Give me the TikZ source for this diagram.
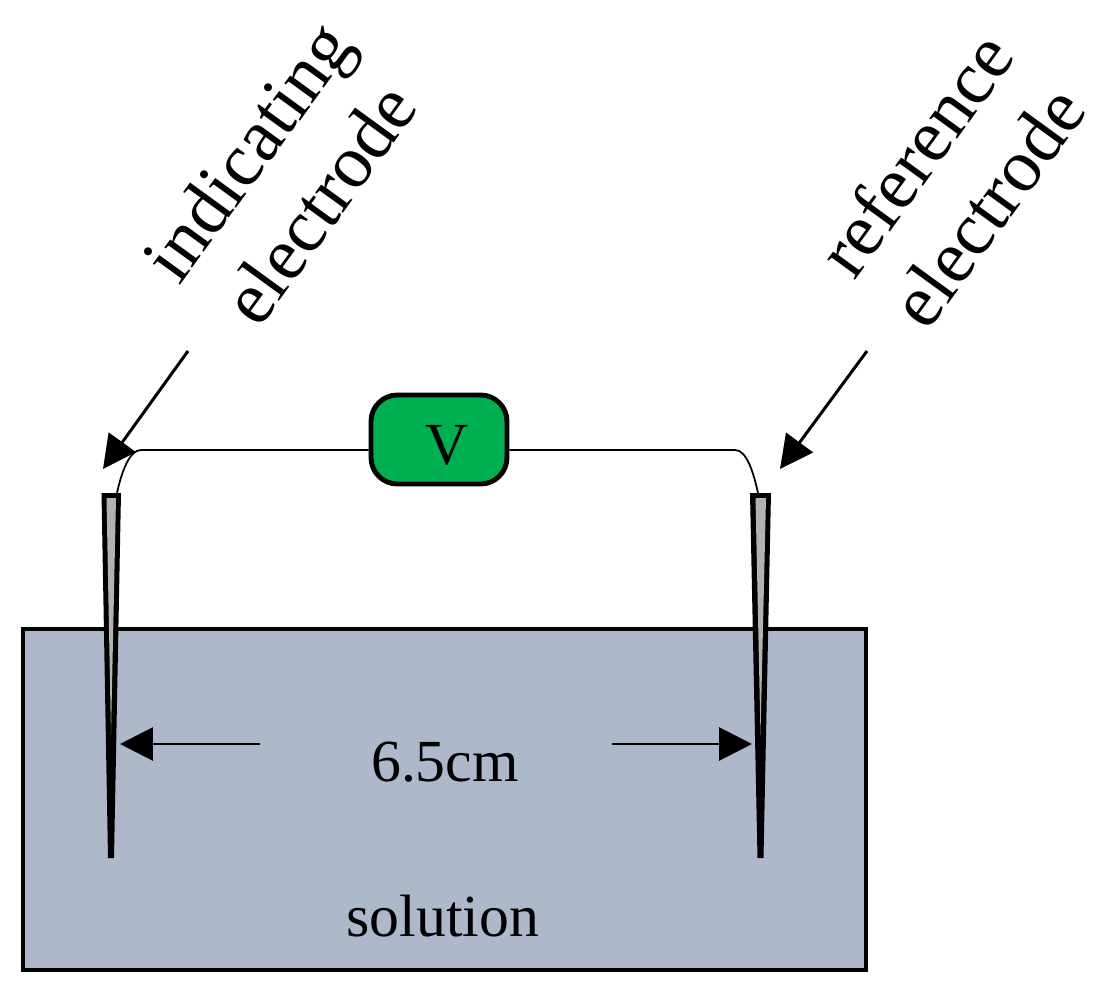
\documentclass[tikz,border=0pt]{standalone}
\usepackage{fontspec}
\setmainfont{Liberation Serif}
\usepackage{xcolor}
\usetikzlibrary{arrows.meta}
\definecolor{solutionblue}{HTML}{ADB9CA}
\definecolor{metergreen}{HTML}{00B050}
\tikzset{
  label text/.style={font=\fontsize{34}{39}\selectfont, align=center},
  big text/.style={font=\fontsize{42.5}{51}\selectfont, align=center, rotate=54},
  pointer/.style={line width=1.7pt, -{Triangle[length=0.66cm, width=0.66cm]}},
  wire/.style={line width=1pt}
}
\begin{document}
\begin{tikzpicture}[x=0.02cm, y=-0.02cm]
  \useasboundingbox (0,0) rectangle (1107,1001);
  % solution tank
  \draw[fill=solutionblue, line width=2.8pt] (23,629) rectangle (866,970);
  \node[label text] (solution) at (443,916) {solution};
  % electrodes
  \fill[black] (101.5,493) -- (121,493) -- (114,858) -- (108,858) -- cycle;
  \fill[black!30] (106.5,498) -- (116,498) -- (111,735) -- cycle;
  \fill[black] (750,493) -- (771,493) -- (763.5,858) -- (757.5,858) -- cycle;
  \fill[black!30] (755.5,498) -- (766,498) -- (760.5,735) -- cycle;
  \coordinate (lefttop) at (117,493);
  \coordinate (righttop) at (758,493);
  % voltmeter
  \node[draw, fill=metergreen, line width=2.8pt, rounded corners=15, minimum width=2.72cm, minimum height=1.78cm] (meter) at (439,439.5) {};
  \node[label text] (vlabel) at (447,445) {V};
  \coordinate (leftbend) at (141,450);
  \coordinate (rightbend) at (735,450);
  \draw[wire] (lefttop) .. controls (122,470) and (130,450) .. (leftbend) -- (leftbend -| meter.west);
  \draw[wire] (righttop) .. controls (753,470) and (746,450) .. (rightbend) -- (rightbend -| meter.east);
  % electrode labels
  \node[big text] (indicating) at (283,177) {indicating\\electrode};
  \node[big text] (reference) at (951,180) {reference\\electrode};
  \coordinate (leftstart) at (188,351);
  \coordinate (lefttip) at (103,469);
  \coordinate (rightstart) at (867,351);
  \coordinate (righttip) at (780,469);
  \draw[pointer] (leftstart) -- (lefttip);
  \draw[pointer] (rightstart) -- (righttip);
  % distance
  \node[label text] (distance) at (445,762) {6.5cm};
  \coordinate (distleft) at (260,744);
  \coordinate (distlefttip) at (120,744);
  \coordinate (distright) at (612,744);
  \coordinate (distrighttip) at (752,744);
  \draw[pointer] (distleft) -- (distlefttip);
  \draw[pointer] (distright) -- (distrighttip);
\end{tikzpicture}
\end{document}
